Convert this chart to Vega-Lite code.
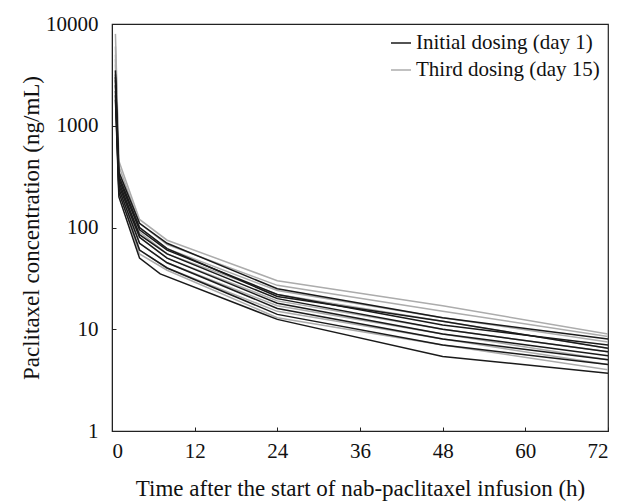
{
  "$schema": "https://vega.github.io/schema/vega-lite/v6.json",
  "width": 496,
  "height": 407,
  "autosize": "none",
  "padding": {"left": 112, "top": 24, "right": 17, "bottom": 72},
  "background": "white",
  "config": {
    "font": "Liberation Serif",
    "view": {"stroke": "#222", "strokeWidth": 1.2},
    "axis": {"grid": false, "domainColor": "#222", "tickColor": "#222", "labelColor": "#111", "titleColor": "#111", "labelFont": "Liberation Serif", "titleFont": "Liberation Serif", "labelFontSize": 21, "titleFontSize": 23, "titleFontWeight": "normal"},
    "legend": {"labelFont": "Liberation Serif", "labelFontSize": 21, "labelColor": "#111", "labelLimit": 400}
  },
  "data": {"values": [
    {"id":"G1","dose":"Third dosing (day 15)","t":0.5,"c":8000},{"id":"G1","dose":"Third dosing (day 15)","t":1,"c":450},{"id":"G1","dose":"Third dosing (day 15)","t":4,"c":120},{"id":"G1","dose":"Third dosing (day 15)","t":8,"c":75},{"id":"G1","dose":"Third dosing (day 15)","t":24,"c":30},{"id":"G1","dose":"Third dosing (day 15)","t":48,"c":17},{"id":"G1","dose":"Third dosing (day 15)","t":72,"c":9},
    {"id":"G2","dose":"Third dosing (day 15)","t":0.5,"c":6000},{"id":"G2","dose":"Third dosing (day 15)","t":1,"c":400},{"id":"G2","dose":"Third dosing (day 15)","t":4,"c":110},{"id":"G2","dose":"Third dosing (day 15)","t":8,"c":68},{"id":"G2","dose":"Third dosing (day 15)","t":24,"c":27},{"id":"G2","dose":"Third dosing (day 15)","t":48,"c":15},{"id":"G2","dose":"Third dosing (day 15)","t":72,"c":8.5},
    {"id":"G3","dose":"Third dosing (day 15)","t":0.5,"c":5000},{"id":"G3","dose":"Third dosing (day 15)","t":1,"c":350},{"id":"G3","dose":"Third dosing (day 15)","t":4,"c":100},{"id":"G3","dose":"Third dosing (day 15)","t":8,"c":62},{"id":"G3","dose":"Third dosing (day 15)","t":24,"c":24},{"id":"G3","dose":"Third dosing (day 15)","t":48,"c":13},{"id":"G3","dose":"Third dosing (day 15)","t":72,"c":7.5},
    {"id":"G4","dose":"Third dosing (day 15)","t":0.5,"c":4500},{"id":"G4","dose":"Third dosing (day 15)","t":1,"c":320},{"id":"G4","dose":"Third dosing (day 15)","t":4,"c":90},{"id":"G4","dose":"Third dosing (day 15)","t":8,"c":55},{"id":"G4","dose":"Third dosing (day 15)","t":24,"c":22},{"id":"G4","dose":"Third dosing (day 15)","t":48,"c":12},{"id":"G4","dose":"Third dosing (day 15)","t":72,"c":6.5},
    {"id":"G5","dose":"Third dosing (day 15)","t":0.5,"c":4000},{"id":"G5","dose":"Third dosing (day 15)","t":1,"c":300},{"id":"G5","dose":"Third dosing (day 15)","t":4,"c":80},{"id":"G5","dose":"Third dosing (day 15)","t":8,"c":50},{"id":"G5","dose":"Third dosing (day 15)","t":24,"c":19},{"id":"G5","dose":"Third dosing (day 15)","t":48,"c":10},{"id":"G5","dose":"Third dosing (day 15)","t":72,"c":6},
    {"id":"G6","dose":"Third dosing (day 15)","t":0.5,"c":3500},{"id":"G6","dose":"Third dosing (day 15)","t":1,"c":280},{"id":"G6","dose":"Third dosing (day 15)","t":4,"c":70},{"id":"G6","dose":"Third dosing (day 15)","t":8,"c":45},{"id":"G6","dose":"Third dosing (day 15)","t":24,"c":17},{"id":"G6","dose":"Third dosing (day 15)","t":48,"c":9},{"id":"G6","dose":"Third dosing (day 15)","t":72,"c":5},
    {"id":"G7","dose":"Third dosing (day 15)","t":0.5,"c":3000},{"id":"G7","dose":"Third dosing (day 15)","t":1,"c":250},{"id":"G7","dose":"Third dosing (day 15)","t":4,"c":60},{"id":"G7","dose":"Third dosing (day 15)","t":8,"c":40},{"id":"G7","dose":"Third dosing (day 15)","t":24,"c":15},{"id":"G7","dose":"Third dosing (day 15)","t":48,"c":8},{"id":"G7","dose":"Third dosing (day 15)","t":72,"c":4.5},
    {"id":"G8","dose":"Third dosing (day 15)","t":0.5,"c":2500},{"id":"G8","dose":"Third dosing (day 15)","t":1,"c":230},{"id":"G8","dose":"Third dosing (day 15)","t":4,"c":55},{"id":"G8","dose":"Third dosing (day 15)","t":8,"c":38},{"id":"G8","dose":"Third dosing (day 15)","t":24,"c":13},{"id":"G8","dose":"Third dosing (day 15)","t":48,"c":7},{"id":"G8","dose":"Third dosing (day 15)","t":72,"c":4},
    {"id":"B1","dose":"Initial dosing (day 1)","t":0.5,"c":3500},{"id":"B1","dose":"Initial dosing (day 1)","t":1,"c":350},{"id":"B1","dose":"Initial dosing (day 1)","t":4,"c":110},{"id":"B1","dose":"Initial dosing (day 1)","t":8,"c":70},{"id":"B1","dose":"Initial dosing (day 1)","t":24,"c":25},{"id":"B1","dose":"Initial dosing (day 1)","t":48,"c":13},{"id":"B1","dose":"Initial dosing (day 1)","t":72,"c":8},
    {"id":"B2","dose":"Initial dosing (day 1)","t":0.5,"c":3000},{"id":"B2","dose":"Initial dosing (day 1)","t":1,"c":300},{"id":"B2","dose":"Initial dosing (day 1)","t":4,"c":95},{"id":"B2","dose":"Initial dosing (day 1)","t":8,"c":60},{"id":"B2","dose":"Initial dosing (day 1)","t":24,"c":22},{"id":"B2","dose":"Initial dosing (day 1)","t":48,"c":11},{"id":"B2","dose":"Initial dosing (day 1)","t":72,"c":7},
    {"id":"B3","dose":"Initial dosing (day 1)","t":0.5,"c":2500},{"id":"B3","dose":"Initial dosing (day 1)","t":1,"c":280},{"id":"B3","dose":"Initial dosing (day 1)","t":4,"c":85},{"id":"B3","dose":"Initial dosing (day 1)","t":8,"c":55},{"id":"B3","dose":"Initial dosing (day 1)","t":24,"c":20},{"id":"B3","dose":"Initial dosing (day 1)","t":48,"c":10},{"id":"B3","dose":"Initial dosing (day 1)","t":72,"c":6},
    {"id":"B4","dose":"Initial dosing (day 1)","t":0.5,"c":2800},{"id":"B4","dose":"Initial dosing (day 1)","t":1,"c":260},{"id":"B4","dose":"Initial dosing (day 1)","t":4,"c":80},{"id":"B4","dose":"Initial dosing (day 1)","t":8,"c":50},{"id":"B4","dose":"Initial dosing (day 1)","t":24,"c":18},{"id":"B4","dose":"Initial dosing (day 1)","t":48,"c":9},{"id":"B4","dose":"Initial dosing (day 1)","t":72,"c":5.5},
    {"id":"B5","dose":"Initial dosing (day 1)","t":0.5,"c":2200},{"id":"B5","dose":"Initial dosing (day 1)","t":1,"c":240},{"id":"B5","dose":"Initial dosing (day 1)","t":4,"c":70},{"id":"B5","dose":"Initial dosing (day 1)","t":8,"c":45},{"id":"B5","dose":"Initial dosing (day 1)","t":24,"c":16},{"id":"B5","dose":"Initial dosing (day 1)","t":48,"c":8},{"id":"B5","dose":"Initial dosing (day 1)","t":72,"c":5},
    {"id":"B6","dose":"Initial dosing (day 1)","t":0.5,"c":2000},{"id":"B6","dose":"Initial dosing (day 1)","t":1,"c":220},{"id":"B6","dose":"Initial dosing (day 1)","t":4,"c":60},{"id":"B6","dose":"Initial dosing (day 1)","t":8,"c":40},{"id":"B6","dose":"Initial dosing (day 1)","t":24,"c":14},{"id":"B6","dose":"Initial dosing (day 1)","t":48,"c":7},{"id":"B6","dose":"Initial dosing (day 1)","t":72,"c":4.5},
    {"id":"B7","dose":"Initial dosing (day 1)","t":0.5,"c":1800},{"id":"B7","dose":"Initial dosing (day 1)","t":1,"c":200},{"id":"B7","dose":"Initial dosing (day 1)","t":4,"c":50},{"id":"B7","dose":"Initial dosing (day 1)","t":7,"c":35},{"id":"B7","dose":"Initial dosing (day 1)","t":24,"c":12.5},{"id":"B7","dose":"Initial dosing (day 1)","t":48,"c":5.4},{"id":"B7","dose":"Initial dosing (day 1)","t":72,"c":3.7},
    {"id":"B8","dose":"Initial dosing (day 1)","t":0.5,"c":3200},{"id":"B8","dose":"Initial dosing (day 1)","t":1,"c":320},{"id":"B8","dose":"Initial dosing (day 1)","t":4,"c":100},{"id":"B8","dose":"Initial dosing (day 1)","t":8,"c":62},{"id":"B8","dose":"Initial dosing (day 1)","t":24,"c":21},{"id":"B8","dose":"Initial dosing (day 1)","t":48,"c":12},{"id":"B8","dose":"Initial dosing (day 1)","t":72,"c":6.5}
  ]},
  "mark": {"type": "line", "strokeWidth": 1.5, "clip": true},
  "encoding": {
    "x": {"field": "t", "type": "quantitative", "title": "Time after the start of nab-paclitaxel infusion (h)",
      "scale": {"domain": [0, 72], "nice": false},
      "axis": {"values": [0, 12, 24, 36, 48, 60, 72], "tickSize": -4, "labelPadding": 13, "titlePadding": 16}},
    "y": {"field": "c", "type": "quantitative", "title": "Paclitaxel concentration (ng/mL)",
      "scale": {"type": "log", "domain": [1, 10000], "nice": false},
      "axis": {"values": [1, 10, 100, 1000, 10000], "format": "d", "tickSize": -4, "labelPadding": 18, "titlePadding": 2}},
    "color": {"field": "dose", "type": "nominal",
      "scale": {"domain": ["Initial dosing (day 1)", "Third dosing (day 15)"], "range": ["#1a1a1a", "#acacac"]},
      "legend": {"title": null, "orient": "top-right", "symbolType": "stroke", "symbolSize": 400, "symbolStrokeWidth": 1.5, "offset": 8, "rowPadding": 6, "labelOffset": 4}},
    "detail": {"field": "id"},
    "order": {"field": "t", "type": "quantitative"}
  }
}
